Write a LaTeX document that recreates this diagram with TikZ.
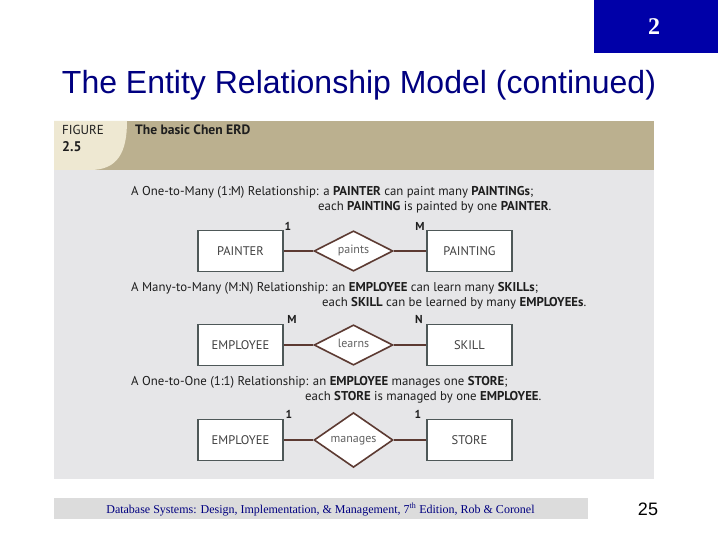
\documentclass[tikz,border=0pt]{standalone}
\usepackage{fontspec}
\setmainfont{Liberation Serif}
\newfontfamily\arialf{Liberation Sans}
\newfontfamily\figf{PT Sans}
\definecolor{navy}{HTML}{000080}
\definecolor{slideblue}{HTML}{0000A8}
\definecolor{tanband}{HTML}{BBB08F}
\definecolor{creamc}{HTML}{EEE8D2}
\definecolor{panelgray}{HTML}{E6E6E8}
\definecolor{footgray}{HTML}{DCDCDC}
\definecolor{boxline}{HTML}{4E5858}
\definecolor{relbrown}{HTML}{5C3A32}
\definecolor{figtext}{HTML}{1E1E1E}
\tikzset{
  entity/.style={draw=boxline, line width=1.6pt, fill=white, minimum width=85pt, minimum height=41pt, inner sep=0pt, text height=9pt, text depth=0pt, font=\figf\fontsize{12.5}{13}\selectfont, text=figtext!85},
  relation/.style={draw=relbrown, line width=1.6pt, fill=white, shape=diamond, minimum width=79pt, minimum height=37pt, inner sep=0pt, text height=7pt, text depth=2pt, font=\figf\fontsize{12}{13}\selectfont, text=figtext!70},
  conn/.style={draw=relbrown, line width=2.2pt},
  card/.style={font=\figf\bfseries\fontsize{11.5}{12}\selectfont, text=figtext, inner sep=0pt},
  sent/.style={anchor=base west, inner sep=0pt, font=\figf\fontsize{12.8}{14}\selectfont, text=figtext}
}
\usetikzlibrary{shapes.geometric}
\begin{document}
\begin{tikzpicture}[x=1pt,y=-1pt]
\useasboundingbox (0,0) rectangle (720,540);
\fill[white] (0,0) rectangle (720,540);
% slide number box
\fill[slideblue] (594,0) rectangle (718,53);
\node[text=white, font=\bfseries\fontsize{24}{26}\selectfont] (secnum) at (654,27) {2};
% title
\node[text=navy, font=\arialf\fontsize{32}{34}\selectfont, anchor=base] (title) at (359,94) {The Entity Relationship Model (continued)};
% panel
\fill[panelgray] (54,121) rectangle (654,479);
\fill[tanband] (54,121) rectangle (654,170);
\fill[creamc] (54,121) -- (127,121) .. controls (127,152) and (118,170) .. (90,170) -- (54,170) -- cycle;
\node[anchor=base west, inner sep=0pt, font=\figf\fontsize{13}{14}\selectfont, text=figtext] (figlbl) at (62,135) {FIGURE};
\node[anchor=base west, inner sep=0pt, font=\figf\bfseries\fontsize{14}{14}\selectfont, text=figtext] (fignum) at (62,152) {2.5};
\node[anchor=base west, inner sep=0pt, font=\figf\bfseries\fontsize{13.6}{14}\selectfont, text=figtext] (figcap) at (135,135) {The basic Chen ERD};
% sentences
\node[sent] (s1a) at (131,196) {A One-to-Many (1:M) Relationship: a \textbf{PAINTER} can paint many \textbf{PAINTINGs};};
\node[sent] (s1b) at (318,211) {each \textbf{PAINTING} is painted by one \textbf{PAINTER}.};
\node[sent] (s2a) at (131,291) {A Many-to-Many (M:N) Relationship: an \textbf{EMPLOYEE} can learn many \textbf{SKILLs};};
\node[sent] (s2b) at (322,306) {each \textbf{SKILL} can be learned by many \textbf{EMPLOYEEs}.};
\node[sent] (s3a) at (131,385) {A One-to-One (1:1) Relationship: an \textbf{EMPLOYEE} manages one \textbf{STORE};};
\node[sent] (s3b) at (305,400) {each \textbf{STORE} is managed by one \textbf{EMPLOYEE}.};
% row 1
\node[entity] (painter) at (240.5,251) {PAINTER};
\node[relation] (paints) at (353.5,251) {paints};
\node[entity] (painting) at (469.5,251) {PAINTING};
\draw[conn] (painter) -- (paints);
\draw[conn] (paints) -- (painting);
\node[card] (c1a) at (288,226) {1};
\node[card] (c1b) at (420,226) {M};
% row 2
\node[entity] (emp1) at (240.5,345) {EMPLOYEE};
\node[relation] (learns) at (353.5,345) {learns};
\node[entity] (skill) at (469.5,345) {SKILL};
\draw[conn] (emp1) -- (learns);
\draw[conn] (learns) -- (skill);
\node[card] (c2a) at (292,319) {M};
\node[card] (c2b) at (419,319) {N};
% row 3
\node[entity] (emp2) at (240.5,440) {EMPLOYEE};
\node[relation] (manages) at (353.5,440) {manages};
\node[entity] (store) at (469.5,440) {STORE};
\draw[conn] (emp2) -- (manages);
\draw[conn] (manages) -- (store);
\node[card] (c3a) at (289,414) {1};
\node[card] (c3b) at (418,414) {1};
% footer
\fill[footgray] (54,498) rectangle (588,519);
\node[text=navy, font=\fontsize{12}{13}\selectfont, anchor=base] (foot) at (320.5,513) {Database Systems: Design, Implementation, \& Management, 7\textsuperscript{th} Edition, Rob \& Coronel};
\node[font=\arialf\fontsize{18}{20}\selectfont, anchor=base] (pagenum) at (648,515) {25};
\end{tikzpicture}
\end{document}
